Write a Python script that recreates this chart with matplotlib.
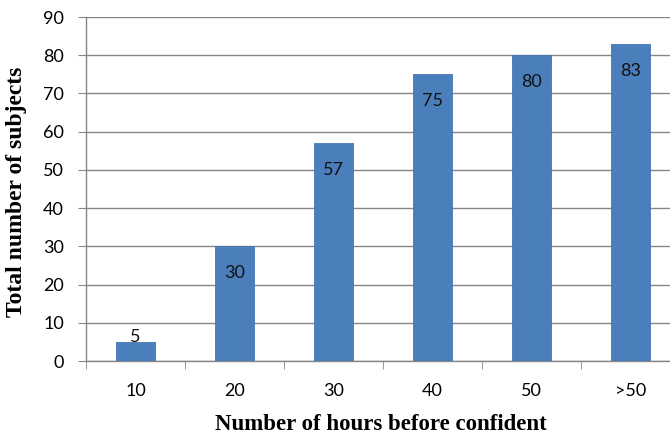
import matplotlib

matplotlib.use("Agg")
import matplotlib.pyplot as plt
import numpy as np

categories = ["10", "20", "30", "40", "50", ">50"]
subjects = [5, 30, 57, 75, 80, 83]
y_ticks = [0, 10, 20, 30, 40, 50, 60, 70, 80, 90]

W, H = 670, 438
fig = plt.figure(figsize=(W / 100, H / 100), dpi=100)
# axes extends a bit past the right edge, like the cropped original
ax = fig.add_axes([86 / W, 1 - 361 / H, (680 - 86) / W, (361 - 17) / H])

x = np.arange(len(categories))
ax.bar(x, subjects, width=0.4, color="#4B7FBC", edgecolor="#4576B3", linewidth=0.6, zorder=3)

for xi, v in zip(x, subjects):
    # inside-end labels; the tiny bar gets its label pushed up over the top
    y = v - 7 if v >= 10 else v + 1.3
    ax.text(xi, y, str(v), ha="center", va="center", fontsize=13,
            family="Lato", color="#111111", zorder=4)

ax.set_xlim(-0.5, len(categories) - 0.5)
ax.set_ylim(0, 90)
ax.set_yticks(y_ticks)
ax.set_xticks(x)
ax.set_xticklabels(categories)
ax.set_xticks(np.arange(len(categories) + 1) - 0.5, minor=True)

ax.grid(axis="y", color="#868686", linewidth=1.0, zorder=0)
for s in ("top", "right"):
    ax.spines[s].set_visible(False)
for s in ("left", "bottom"):
    ax.spines[s].set_color("#868686")
    ax.spines[s].set_linewidth(1.0)

ax.tick_params(axis="y", direction="out", length=6, color="#868686",
               labelsize=13, pad=10)
ax.tick_params(axis="x", which="major", length=0, labelsize=13, pad=16)
ax.tick_params(axis="x", which="minor", direction="out", length=6, color="#868686")
for lbl in ax.get_xticklabels() + ax.get_yticklabels():
    lbl.set_family("Lato")

fig.text(381 / W, 1 - 425 / H, "Number of hours before confident", ha="center",
         va="center", family="Liberation Serif", fontweight="bold", fontsize=16.5)
fig.text(17 / W, 1 - 192 / H, "Total number of subjects", ha="center", va="center",
         rotation=90, family="Liberation Serif", fontweight="bold", fontsize=17)

fig.savefig("out.png", dpi=100)
